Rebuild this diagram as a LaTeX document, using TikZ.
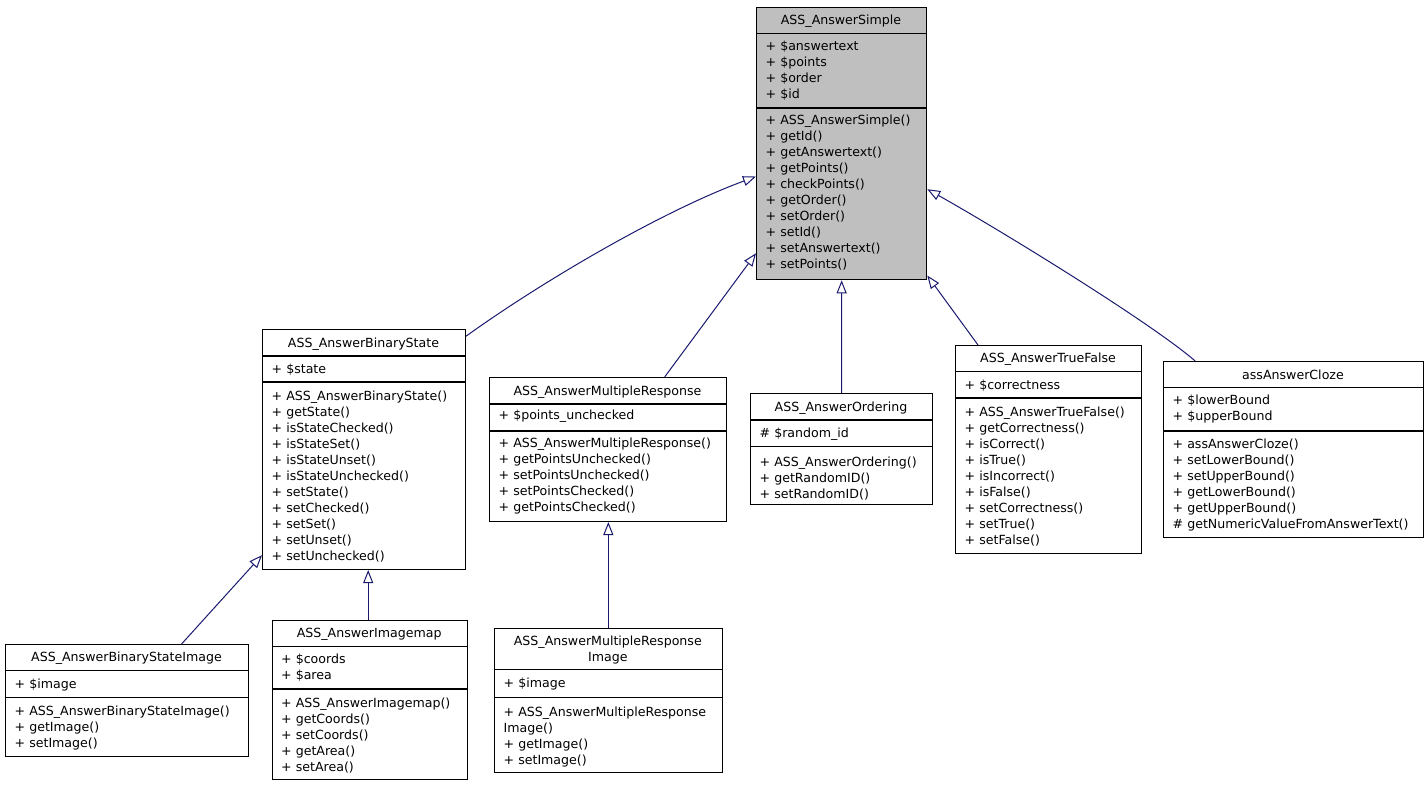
\documentclass[tikz,border=0pt]{standalone}
\usepackage{fontspec}
\newfontfamily\umlfont{DejaVu Sans}
\usetikzlibrary{arrows.meta}
\definecolor{edgeblue}{RGB}{25,25,112}
\definecolor{simplegray}{RGB}{191,191,191}
\tikzset{
  cbox/.style={draw=black, line width=1pt, rectangle, inner sep=0pt, anchor=north west, fill=white},
  sepline/.style={line width=1.4pt},
  txt/.style={inner sep=0pt, anchor=base west, font=\umlfont\fontsize{12.6}{16}\selectfont},
  ttl/.style={txt, anchor=base},
  inh/.style={draw=edgeblue, line width=1pt, -{Triangle[open, length=13pt, width=10pt]}},
}
\newcommand\umlbox[6]{\node[cbox,#6, minimum width={#4pt-#2pt}, minimum height={#5pt-#3pt}] (#1) at (#2,#3) {};}
\newcommand\twoseps[4]{\draw[sepline] (#1,#3) -- (#2,#3); \draw[sepline] (#1,#4) -- (#2,#4);}
\newcommand\tlines[3]{\foreach \itm [count=\i from 0] in {#3} {\node[txt] at (#1,{#2+16*\i}) {\itm};}}
\begin{document}
\begin{tikzpicture}[x=1pt,y=-1pt]
\fill[white] (0,0) rectangle (1428,787);
\useasboundingbox (0,0) rectangle (1428,787);

% ASS_AnswerSimple
\umlbox{simple}{756}{7}{926}{279}{fill=simplegray, line width=1.3pt}
\twoseps{756}{926}{33.3}{108}
\node[ttl] at (841,24.5) {ASS\_AnswerSimple};
\tlines{765.5}{50.5}{+ \$answertext, + \$points, + \$order, + \$id}
\tlines{765.5}{124}{+ ASS\_AnswerSimple(), + getId(), + getAnswertext(), + getPoints(), + checkPoints(), + getOrder(), + setOrder(), + setId(), + setAnswertext(), + setPoints()}

% ASS_AnswerBinaryState
\umlbox{bstate}{262}{329}{465}{569}{}
\twoseps{262}{465}{356}{382}
\node[ttl] at (363.5,347.2) {ASS\_AnswerBinaryState};
\tlines{271.5}{373.8}{+ \$state}
\tlines{271.5}{400.5}{+ ASS\_AnswerBinaryState(), + getState(), + isStateChecked(), + isStateSet(), + isStateUnset(), + isStateUnchecked(), + setState(), + setChecked(), + setSet(), + setUnset(), + setUnchecked()}

% ASS_AnswerMultipleResponse
\umlbox{mr}{489}{377}{726}{521}{}
\twoseps{489}{726}{404}{431}
\node[ttl] at (607.5,395.2) {ASS\_AnswerMultipleResponse};
\tlines{498.5}{419.5}{+ \$points\_unchecked}
\tlines{498.5}{447}{+ ASS\_AnswerMultipleResponse(), + getPointsUnchecked(), + setPointsUnchecked(), + setPointsChecked(), + getPointsChecked()}

% ASS_AnswerOrdering
\umlbox{ordering}{750}{393}{932}{504}{}
\twoseps{750}{932}{420}{446.7}
\node[ttl] at (841,411.2) {ASS\_AnswerOrdering};
\tlines{759.5}{437.8}{\# \$random\_id}
\tlines{759.5}{466}{+ ASS\_AnswerOrdering(), + getRandomID(), + setRandomID()}

% ASS_AnswerTrueFalse
\umlbox{tf}{955}{345}{1141}{553}{}
\twoseps{955}{1141}{371.5}{398}
\node[ttl] at (1048,362.8) {ASS\_AnswerTrueFalse};
\tlines{964.5}{389}{+ \$correctness}
\tlines{964.5}{416.2}{+ ASS\_AnswerTrueFalse(), + getCorrectness(), + isCorrect(), + isTrue(), + isIncorrect(), + isFalse(), + setCorrectness(), + setTrue(), + setFalse()}

% assAnswerCloze
\umlbox{cloze}{1163}{361}{1423}{537}{}
\twoseps{1163}{1423}{387.7}{431}
\node[ttl] at (1293,379.5) {assAnswerCloze};
\tlines{1172.5}{404.5}{+ \$lowerBound, + \$upperBound}
\tlines{1172.5}{448.8}{+ assAnswerCloze(), + setLowerBound(), + setUpperBound(), + getLowerBound(), + getUpperBound(), \# getNumericValueFromAnswerText()}

% ASS_AnswerBinaryStateImage
\umlbox{bsi}{5}{644}{248}{756}{}
\twoseps{5}{248}{670.7}{697.3}
\node[ttl] at (126.5,661.2) {ASS\_AnswerBinaryStateImage};
\tlines{14.5}{688.5}{+ \$image}
\tlines{14.5}{715.2}{+ ASS\_AnswerBinaryStateImage(), + getImage(), + setImage()}

% ASS_AnswerImagemap
\umlbox{imagemap}{271.7}{620}{466.7}{779}{}
\twoseps{271.7}{466.7}{646.7}{689}
\node[ttl] at (369.2,637.8) {ASS\_AnswerImagemap};
\tlines{281}{663.8}{+ \$coords, + \$area}
\tlines{281}{707.2}{+ ASS\_AnswerImagemap(), + getCoords(), + setCoords(), + getArea(), + setArea()}

% ASS_AnswerMultipleResponseImage
\umlbox{mri}{494}{627.7}{721.7}{771.7}{}
\twoseps{494}{721.7}{669.3}{697.3}
\node[ttl] at (607.8,645.2) {ASS\_AnswerMultipleResponse};
\node[ttl] at (607.8,661.2) {Image};
\tlines{503.5}{687.8}{+ \$image}
\tlines{503.5}{716.2}{+ ASS\_AnswerMultipleResponse, Image(), + getImage(), + setImage()}

% inheritance edges
\draw[inh] (bstate.48.1) .. controls (540,283) and (660,212) .. (simple.201.2);
\draw[inh] (mr.52.4) -- (simple.232.8);
\draw[inh] (ordering.north) -- (simple.south);
\draw[inh] (tf.124.3) -- (simple.303.8);
\draw[inh] (cloze.138.1) .. controls (1150,322) and (1000,230) .. (simple.332.6);
\draw[inh] (bsi.46.3) -- (bstate.226.5);
\draw[inh] ([xshift=-1.5pt]imagemap.north) -- ([xshift=-1.5pt]imagemap.north |- bstate.south);
\draw[inh] (mri.north) -- (mri.north |- mr.south);
\end{tikzpicture}
\end{document}
